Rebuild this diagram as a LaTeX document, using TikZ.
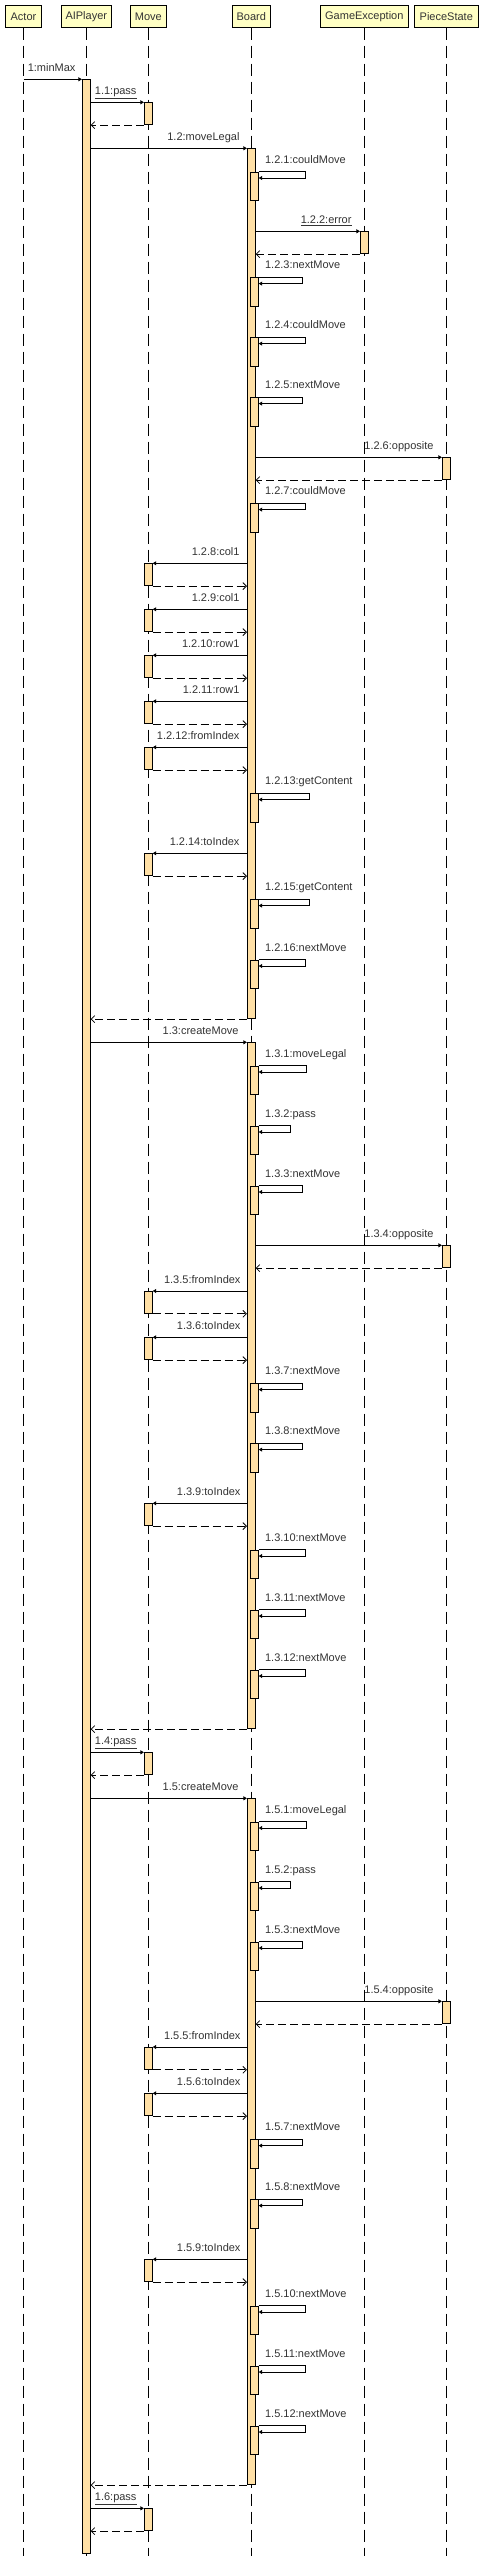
\documentclass[tikz,border=0pt]{standalone}
\usepackage{fontspec}
\setmainfont{Liberation Sans}
\usetikzlibrary{arrows.meta}
\definecolor{headYellow}{RGB}{255,255,196}
\definecolor{barOrange}{RGB}{255,224,166}
\definecolor{labelGray}{RGB}{51,51,51}

\begin{document}
\begin{tikzpicture}[x=1pt, y=-1pt, line width=0.8pt]

		\useasboundingbox (0,0) rectangle (483,2559);

		\tikzset{HeadStyle/.style =
				{draw, fill=headYellow, minimum height=22pt, inner sep=0pt, text=labelGray, font=\fontsize{11}{13}\selectfont}
		}
		\tikzset{BarStyle/.style =
				{draw, fill=barOrange, minimum width=8pt, inner sep=0pt, anchor=north}
		}
		\tikzset{LabelStyle/.style =
				{inner sep=0pt, text=labelGray, font=\fontsize{11}{13}\selectfont}
		}
		\tikzstyle{CallStyle}=[-{Triangle[length=3.5pt,width=4pt]}]
		\tikzstyle{ReturnStyle}=[dash pattern=on 8pt off 4pt, -{Straight Barb[length=3.5pt,width=7pt]}]
		\tikzstyle{LifeStyle}=[dash pattern=on 12pt off 6pt]

		%heads
		\node[HeadStyle, minimum width=35.4pt] (actor) at (23.5,16.3) {Actor};
		\node[HeadStyle, minimum width=50pt] (ai) at (86.3,16.3) {AIPlayer};
		\node[HeadStyle, minimum width=36pt] (mv) at (148.3,16.3) {Move};
		\node[HeadStyle, minimum width=38.6pt] (bd) at (251.3,16.3) {Board};
		\node[HeadStyle, minimum width=88pt] (ge) at (364.3,16.3) {GameException};
		\node[HeadStyle, minimum width=63.4pt] (ps) at (446.3,16.3) {PieceState};

		%lifelines
		\coordinate (bottom) at (0,2556);
		\foreach \n in {actor,ai,mv,bd,ge,ps}
			\draw[LifeStyle] (\n.south) -- (\n.south |- bottom);

		%minMax
		\node[BarStyle, minimum height=2474pt] (ab) at (86.3,79.3) {};
		\draw[CallStyle] (actor.south |- ab.north) -- (ab.north west)
			node[LabelStyle, anchor=base east, xshift=-6pt, yshift=8pt] (l1) {1:minMax};

		%pass
		\node[BarStyle, minimum height=22pt] (mp1) at (148.3,102.3) {};
		\draw[CallStyle] (ab.east |- mp1.north) -- (mp1.north west)
			node[LabelStyle, anchor=base east, xshift=-7pt, yshift=8pt] (lmp1) {\underline{1.1:pass}};
		\draw[ReturnStyle] (mp1.south west) -- (ab.east |- mp1.south);

		%moveLegal
		\node[BarStyle, minimum height=870pt] (bb2) at (251.3,148.3) {};
		\draw[CallStyle] (ab.east |- bb2.north) -- (bb2.north west)
			node[LabelStyle, anchor=base east, xshift=-7pt, yshift=8pt] (lb2) {1.2:moveLegal};
		\draw[ReturnStyle] (bb2.south west) -- (ab.east |- bb2.south);

		\foreach \y/\w/\t [count=\i] in {171.7/47/1.2.1:couldMove, 277.3/44/1.2.3:nextMove,
				337.3/47/1.2.4:couldMove, 397.3/44/1.2.5:nextMove, 503.3/47/1.2.7:couldMove,
				793.3/51/1.2.13:getContent, 899.3/51/1.2.15:getContent, 959.7/47/1.2.16:nextMove}{
			\node[BarStyle, minimum height=28.7pt] (s2-\i) at (254.3,\y) {};
			\draw[CallStyle] (s2-\i.north east)
				node[LabelStyle, anchor=base west, xshift=6pt, yshift=8.5pt] (ls2-\i) {\t}
				-- ++(\w,0) |- ([yshift=-6.3pt]s2-\i.north east);
		}

		\node[BarStyle, minimum height=22pt] (g2) at (364.3,231.3) {};
		\draw[CallStyle] (bb2.east |- g2.north) -- (g2.north west)
			node[LabelStyle, anchor=base east, xshift=-8pt, yshift=8pt] (lg2) {\underline{1.2.2:error}};
		\draw[ReturnStyle] (g2.south west) -- (bb2.east |- g2.south);

		\node[BarStyle, minimum height=22pt] (p2) at (446.3,457.3) {};
		\draw[CallStyle] (bb2.east |- p2.north) -- (p2.north west)
			node[LabelStyle, anchor=base east, xshift=-8pt, yshift=8pt] (lp2) {1.2.6:opposite};
		\draw[ReturnStyle] (p2.south west) -- (bb2.east |- p2.south);

		\foreach \y/\t [count=\i] in {563.3/1.2.8:col1, 609.3/1.2.9:col1, 655.3/1.2.10:row1,
				701.3/1.2.11:row1, 747.3/1.2.12:fromIndex, 853.3/1.2.14:toIndex}{
			\node[BarStyle, minimum height=22pt] (m2-\i) at (148.3,\y) {};
			\draw[CallStyle] (bb2.west |- m2-\i.north)
				node[LabelStyle, anchor=base east, xshift=-7pt, yshift=8pt] (lm2-\i) {\t}
				-- (m2-\i.north east);
			\draw[ReturnStyle] (m2-\i.south east) -- (bb2.west |- m2-\i.south);
		}

		%createMove and pass
		\foreach \b/\o in {3/0, 5/756}{
			\pgfmathtruncatemacro\p{\b+1}
			\node[BarStyle, minimum height=686pt] (bb\b) at (251.3,1042.3+\o) {};
			\draw[CallStyle] (ab.east |- bb\b.north) -- (bb\b.north west)
				node[LabelStyle, anchor=base east, xshift=-8pt, yshift=8pt] (lb\b) {1.\b:createMove};
			\draw[ReturnStyle] (bb\b.south west) -- (ab.east |- bb\b.south);

			\foreach \y/\w/\n/\t [count=\i] in {1065.7/48/1/moveLegal, 1125.7/32/2/pass,
					1185.7/44/3/nextMove, 1383.3/44/7/nextMove, 1443.3/44/8/nextMove,
					1549.7/47/10/nextMove, 1609.7/47/11/nextMove, 1669.7/47/12/nextMove}{
				\node[BarStyle, minimum height=28.7pt] (s\b-\i) at (254.3,\y+\o) {};
				\draw[CallStyle] (s\b-\i.north east)
					node[LabelStyle, anchor=base west, xshift=6pt, yshift=8.5pt] (ls\b-\i) {1.\b.\n:\t}
					-- ++(\w,0) |- ([yshift=-6.3pt]s\b-\i.north east);
			}

			\node[BarStyle, minimum height=22pt] (p\b) at (446.3,1245.3+\o) {};
			\draw[CallStyle] (bb\b.east |- p\b.north) -- (p\b.north west)
				node[LabelStyle, anchor=base east, xshift=-8pt, yshift=8pt] (lp\b) {1.\b.4:opposite};
			\draw[ReturnStyle] (p\b.south west) -- (bb\b.east |- p\b.south);

			\foreach \y/\n/\t [count=\i] in {1291/5/fromIndex, 1337.3/6/toIndex, 1503.3/9/toIndex}{
				\node[BarStyle, minimum height=22pt] (m\b-\i) at (148.3,\y+\o) {};
				\draw[CallStyle] (bb\b.west |- m\b-\i.north)
					node[LabelStyle, anchor=base east, xshift=-6pt, yshift=8pt] (lm\b-\i) {1.\b.\n:\t}
					-- (m\b-\i.north east);
				\draw[ReturnStyle] (m\b-\i.south east) -- (bb\b.west |- m\b-\i.south);
			}

			\node[BarStyle, minimum height=22pt] (mp\p) at (148.3,1752.3+\o) {};
			\draw[CallStyle] (ab.east |- mp\p.north) -- (mp\p.north west)
				node[LabelStyle, anchor=base east, xshift=-7pt, yshift=8pt] (lmp\p) {\underline{1.\p:pass}};
			\draw[ReturnStyle] (mp\p.south west) -- (ab.east |- mp\p.south);
		}
	\end{tikzpicture}
\end{document}
